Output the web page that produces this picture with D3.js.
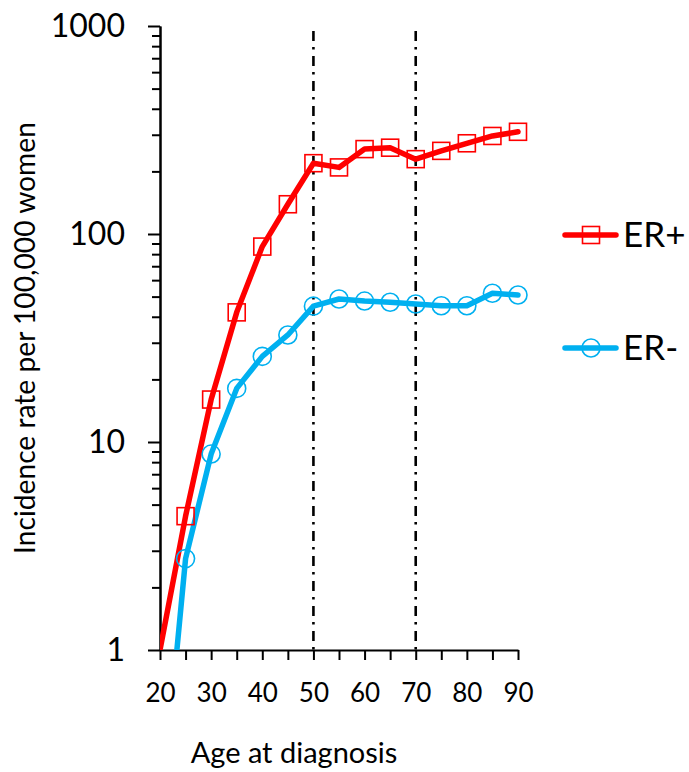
<!DOCTYPE html>
<html>
<head>
<meta charset="utf-8">
<script src="https://cdn.jsdelivr.net/npm/d3@7"></script>
<style>
  html, body { margin: 0; padding: 0; background: #fff; }
  svg { display: block; font-family: Lato, "Open Sans", sans-serif; }
</style>
</head>
<body>
<svg id="chart" width="689" height="772"></svg>
<script>
// ---- data ----
const ages = [25, 30, 35, 40, 45, 50, 55, 60, 65, 70, 75, 80, 85, 90];
const erPosObserved = [4.4, 16.0, 42, 87, 139, 219, 209, 256, 260, 229, 251, 273, 296, 310];
const erNegObserved = [2.75, 8.75, 18.1, 25.8, 32.7, 45, 48.7, 47.6, 47, 46.1, 45.2, 45.2, 51.9, 50.9];

// start of each line where it meets the bottom of the axis
const erPosLineStart = [20, 1];
const erNegLineStart = [23.3, 1];

const xTicks = [20, 25, 30, 35, 40, 45, 50, 55, 60, 65, 70, 75, 80, 85, 90];
const yMajorTicks = [1, 10, 100, 1000];
const yMinorTicks = [2,3,4,5,6,7,8,9,20,30,40,50,60,70,80,90,200,300,400,500,600,700,800,900];
const refAges = [50, 70];
const seriesNames = ["ER+", "ER-"];
const seriesColors = ["#FF0000", "#00B0F0"];

// ---- layout ----
const svg = d3.select("#chart");
const pLeft = 160, pRight = 518, pTop = 26, pBottom = 650;

const x = d3.scaleLinear().domain([20, 90]).range([pLeft, pRight]);
const y = d3.scaleLog().domain([1, 1000]).range([pBottom, pTop]);

svg.append("defs").append("clipPath").attr("id", "plotclip")
  .append("rect").attr("x", pLeft).attr("y", 0).attr("width", 560 - pLeft).attr("height", pBottom);

// reference lines
svg.selectAll("line.ref").data(refAges).enter().append("line")
  .attr("class", "ref")
  .attr("x1", d => x(d)).attr("x2", d => x(d))
  .attr("y1", 31).attr("y2", pBottom)
  .attr("stroke", "#000").attr("stroke-width", 2.6)
  .attr("stroke-dasharray", "10,6,2.5,6.5")
  .attr("stroke-dashoffset", 0);

// axes
const yMinor = d3.axisLeft(y).tickValues(yMinorTicks).tickSize(8).tickFormat("").tickSizeOuter(0);
const yMajor = d3.axisLeft(y).tickValues(yMajorTicks).tickSize(12).tickPadding(23)
  .tickFormat(d3.format("d")).tickSizeOuter(0);
const xAxis = d3.axisBottom(x).tickValues(xTicks).tickSize(10).tickPadding(24)
  .tickFormat(d => d % 10 === 0 ? d : "").tickSizeOuter(0);

const gyMinor = svg.append("g").attr("transform", `translate(${pLeft},0)`).call(yMinor);
const gyMajor = svg.append("g").attr("transform", `translate(${pLeft},0)`).call(yMajor);
const gx = svg.append("g").attr("transform", `translate(0,${pBottom})`).call(xAxis);

[gyMinor, gyMajor, gx].forEach(g => {
  g.selectAll("path.domain").attr("stroke", "#000").attr("stroke-width", 2);
  g.selectAll(".tick line").attr("stroke", "#000").attr("stroke-width", 2);
});
gyMajor.selectAll("text").attr("font-size", 32).attr("fill", "#000").attr("font-family", "Lato");
gx.selectAll("text").attr("font-size", 26).attr("fill", "#000").attr("font-family", "Lato");

// axis titles
svg.append("text")
  .attr("x", 294).attr("y", 763)
  .attr("text-anchor", "middle")
  .attr("font-size", 29).attr("fill", "#000")
  .text("Age at diagnosis");

svg.append("text")
  .attr("transform", "translate(35,338) rotate(-90)")
  .attr("text-anchor", "middle")
  .attr("font-size", 28.2).attr("fill", "#000")
  .text("Incidence rate per 100,000 women");

// lines
const line = d3.line().x(d => x(d[0])).y(d => y(d[1])).curve(d3.curveLinear);
const plot = svg.append("g").attr("clip-path", "url(#plotclip)");

const posPts = ages.map((a, i) => [a, erPosObserved[i]]);
const negPts = ages.map((a, i) => [a, erNegObserved[i]]);
const posLine = [erPosLineStart].concat(posPts);
const negLine = [erNegLineStart].concat(negPts);

plot.append("path").datum(negLine).attr("d", line)
  .attr("fill", "none").attr("stroke", seriesColors[1]).attr("stroke-width", 5.5)
  .attr("stroke-linecap", "round").attr("stroke-linejoin", "round");
plot.append("path").datum(posLine).attr("d", line)
  .attr("fill", "none").attr("stroke", seriesColors[0]).attr("stroke-width", 5.5)
  .attr("stroke-linecap", "round").attr("stroke-linejoin", "round");

// markers
const sq = 17;
svg.append("g").selectAll("rect").data(posPts).enter()
  .append("rect")
  .attr("x", d => x(d[0]) - sq / 2).attr("y", d => y(d[1]) - sq / 2)
  .attr("width", sq).attr("height", sq)
  .attr("fill", "none").attr("stroke", seriesColors[0]).attr("stroke-width", 1.6);

svg.append("g").selectAll("circle").data(negPts).enter()
  .append("circle")
  .attr("cx", d => x(d[0])).attr("cy", d => y(d[1])).attr("r", 9)
  .attr("fill", "none").attr("stroke", seriesColors[1]).attr("stroke-width", 1.6);

// legend
const legendY = [235, 348];
const lg = svg.append("g");
seriesNames.forEach((name, i) => {
  const yy = legendY[i];
  lg.append("line").attr("x1", 565).attr("x2", 616).attr("y1", yy).attr("y2", yy)
    .attr("stroke", seriesColors[i]).attr("stroke-width", 5.5).attr("stroke-linecap", "round");
  if (i === 0) {
    lg.append("rect").attr("x", 591 - sq / 2).attr("y", yy - sq / 2).attr("width", sq).attr("height", sq)
      .attr("fill", "none").attr("stroke", seriesColors[i]).attr("stroke-width", 1.6);
  } else {
    lg.append("circle").attr("cx", 591).attr("cy", yy).attr("r", 9)
      .attr("fill", "none").attr("stroke", seriesColors[i]).attr("stroke-width", 1.6);
  }
  lg.append("text").attr("x", 623).attr("y", yy + 12)
    .attr("font-size", 35).attr("fill", "#000").text(name);
});
</script>
</body>
</html>
